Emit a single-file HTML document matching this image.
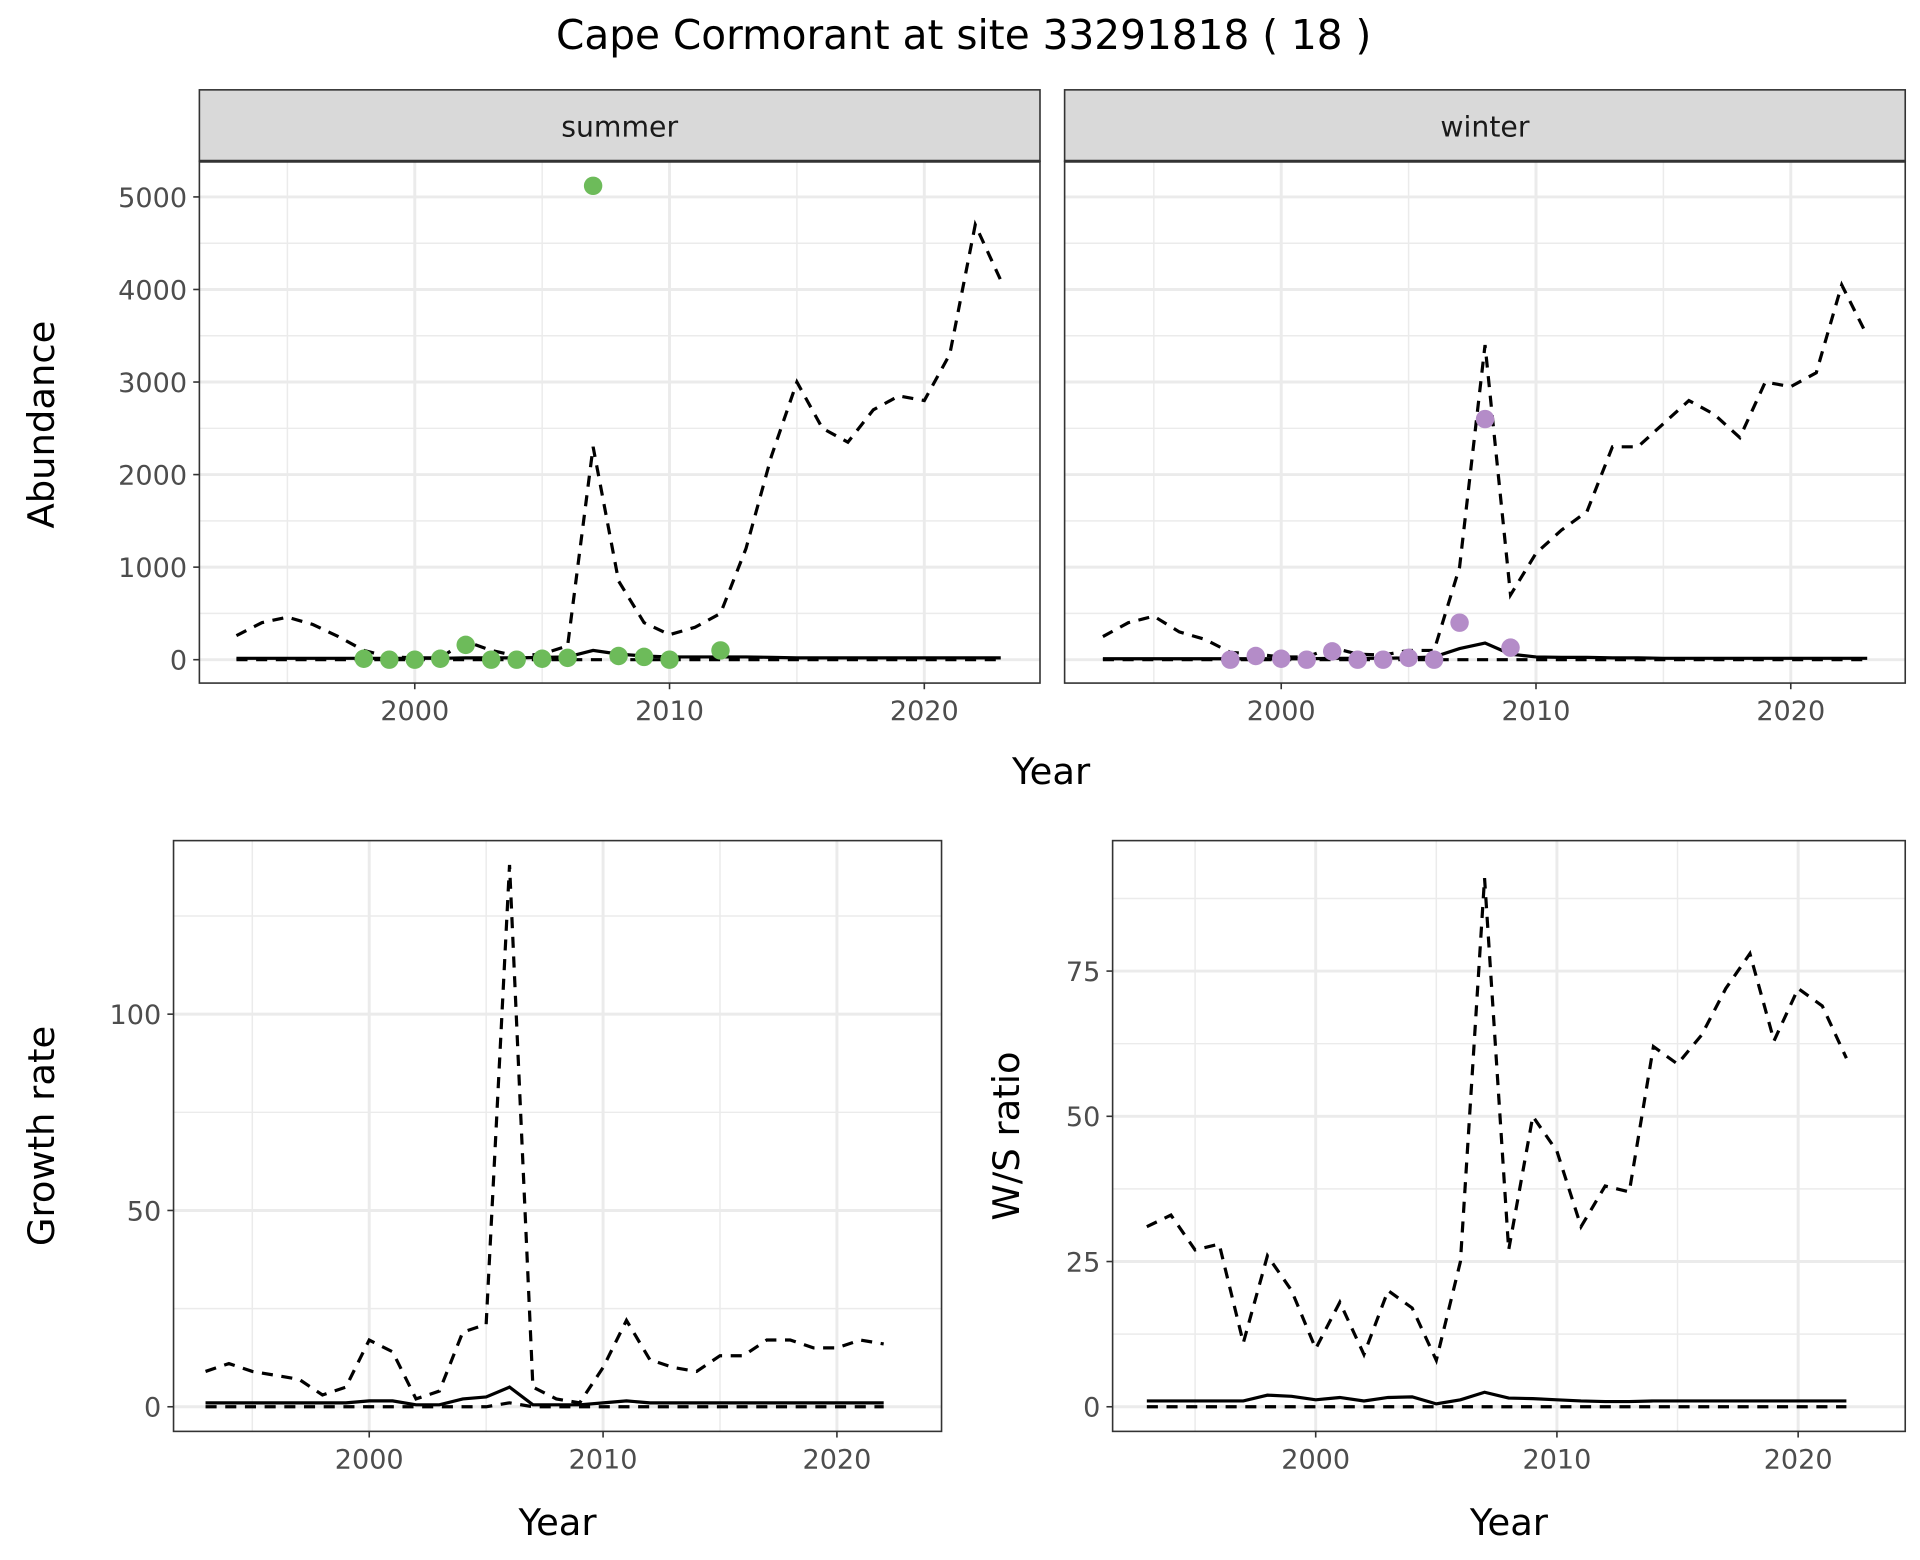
<!DOCTYPE html>
<html><head><meta charset="utf-8"><style>
html,body{margin:0;padding:0;background:#fff;}
svg{display:block;font-family:"DejaVu Sans","Liberation Sans",sans-serif;}
</style></head><body>
<svg id="chart" width="1920" height="1560" viewBox="0 0 1560 1267.5" preserveAspectRatio="none" xmlns="http://www.w3.org/2000/svg">
<text x="783" y="40" font-size="33" text-anchor="middle" fill="#000">Cape Cormorant at site 33291818 ( 18 )</text>
</svg>
<script>
const years = [1993,1994,1995,1996,1997,1998,1999,2000,2001,2002,2003,2004,2005,2006,2007,2008,2009,2010,2011,2012,2013,2014,2015,2016,2017,2018,2019,2020,2021,2022,2023];
const summerUpper = [260,400,460,380,250,100,30,20,20,200,100,40,60,150,2300,850,400,270,350,500,1200,2200,3000,2500,2350,2700,2850,2800,3300,4700,4100];
const summerMid = [15,15,15,15,15,15,15,15,15,20,20,20,25,30,100,60,40,30,30,30,30,25,20,20,20,20,20,20,20,20,20];
const summerLower = [0,0,0,0,0,0,0,0,0,0,0,0,0,0,0,0,0,0,0,0,0,0,0,0,0,0,0,0,0,0,0];
const summerPtYears = [1998,1999,2000,2001,2002,2003,2004,2005,2006,2007,2008,2009,2010,2012];
const summerPts = [10,0,0,10,160,0,0,10,20,5120,40,30,0,100];
const winterUpper = [250,400,470,300,220,80,60,30,30,130,60,50,100,100,1000,3400,700,1150,1400,1600,2300,2300,2550,2800,2650,2400,3000,2950,3100,4050,3500];
const winterMid = [10,10,10,10,10,10,10,10,10,15,15,15,20,30,120,180,60,30,25,25,20,20,15,15,15,15,15,15,15,15,15];
const winterLower = summerLower;
const winterPtYears = [1998,1999,2000,2001,2002,2003,2004,2005,2006,2007,2008,2009];
const winterPts = [0,40,10,0,90,0,0,20,0,400,2600,130];
const gYears = years.slice(0,30);
const growthUpper = [9,11,9,8,7,3,5,17,14,2,4,19,21,138,5,2,1,10,22,12,10,9,13,13,17,17,15,15,17,16];
const growthMid = [1,1,1,1,1,1,1,1.5,1.5,0.5,0.5,2,2.5,5,0.5,0.5,0.5,1,1.5,1,1,1,1,1,1,1,1,1,1,1];
const growthLower = [0,0,0,0,0,0,0,0,0,0,0,0,0,1,0,0,0,0,0,0,0,0,0,0,0,0,0,0,0,0];
const wsUpper = [31,33,27,28,11,26,20,10,18,9,20,17,8,25,91,27,50,44,31,38,37,62,59,64,72,78,63,72,69,60];
const wsMid = [1,1,1,1,1,2,1.8,1.2,1.6,1,1.6,1.7,0.5,1.2,2.5,1.5,1.4,1.2,1,0.9,0.9,1,1,1,1,1,1,1,1,1];
const wsLower = [0,0,0,0,0,0,0,0,0,0,0,0,0,0,0,0,0,0,0,0,0,0,0,0,0,0,0,0,0,0];
const abTicks = [0,1000,2000,3000,4000,5000];
const grTicks = [0,50,100];
const wsTicks = [0,25,50,75];
const xTicks = [2000,2010,2020];

const NS="http://www.w3.org/2000/svg";
const svg=document.getElementById('chart');
function mk(tag,attrs,parent){const e=document.createElementNS(NS,tag);for(const k in attrs)e.setAttribute(k,attrs[k]);(parent||svg).appendChild(e);return e;}

function panel(p){
  const g=mk('g',{});
  
  
  const xs=v=>p.x0+(v-p.xa)*(p.x1-p.x0)/(p.xb-p.xa);
  const ys=v=>p.y0+(v-p.ya)*(p.y1-p.y0)/(p.yb-p.ya);
  const L=p.left,R=p.right,T=p.top,B=p.bottom;
  for(let i=0;i<p.yt.length-1;i++){const v=(p.yt[i]+p.yt[i+1])/2;mk('line',{x1:L,x2:R,y1:ys(v),y2:ys(v),stroke:'#ebebeb','stroke-width':1.2},g);}
  if(p.yt.length>1){const st=p.yt[1]-p.yt[0];const v=p.yt[p.yt.length-1]+st/2;if(ys(v)>T)mk('line',{x1:L,x2:R,y1:ys(v),y2:ys(v),stroke:'#ebebeb','stroke-width':1.2},g);}
  [1995,2005,2015].forEach(v=>mk('line',{x1:xs(v),x2:xs(v),y1:T,y2:B,stroke:'#ebebeb','stroke-width':1.2},g));
  p.yt.forEach(v=>mk('line',{x1:L,x2:R,y1:ys(v),y2:ys(v),stroke:'#ebebeb','stroke-width':2.4},g));
  xTicks.forEach(v=>mk('line',{x1:xs(v),x2:xs(v),y1:T,y2:B,stroke:'#ebebeb','stroke-width':2.4},g));
  const dash='9,7';
  const line=(xv,yv,d,nm)=>{const pl=mk('polyline',{points:xv.map((x,i)=>xs(x)+','+ys(yv[i])).join(' '),fill:'none',stroke:'#000','stroke-width':2.6,'stroke-dasharray':d||'none'},g);
    
    };
  line(p.xv,p.lower,dash,'lower-bound-line');
  line(p.xv,p.mid,null,'estimate-line');
  line(p.xv,p.upper,dash,'upper-bound-line');
  if(p.pts){p.pts.forEach((v,i)=>{const c=mk('circle',{cx:xs(p.ptx[i]),cy:ys(v),r:7.5,fill:p.col},g);
    
    });}
  mk('rect',{x:L,y:T,width:R-L,height:B-T,fill:'none',stroke:'#333','stroke-width':1.3},g);
  if(p.showY){p.yt.forEach(v=>{mk('line',{x1:L-5,x2:L,y1:ys(v),y2:ys(v),stroke:'#333','stroke-width':1.3},g);
    const t=mk('text',{x:L-10,y:ys(v)+8,'font-size':22,'text-anchor':'end',fill:'#4d4d4d'},g);t.textContent=v;
    
    });}
  xTicks.forEach(v=>{mk('line',{x1:xs(v),x2:xs(v),y1:B,y2:B+5,stroke:'#333','stroke-width':1.3},g);
    const t=mk('text',{x:xs(v),y:B+30,'font-size':22,'text-anchor':'middle',fill:'#4d4d4d'},g);t.textContent=v;
    
    });
  if(p.strip){const r=mk('rect',{x:L,y:73,width:R-L,height:T-73,fill:'#d9d9d9',stroke:'#333','stroke-width':1.3},g);
    
    
    mk('line',{x1:L,x2:R,y1:T,y2:T,stroke:'#333','stroke-width':2.5},g);
    const t=mk('text',{x:(L+R)/2,y:111,'font-size':23,'text-anchor':'middle',fill:'#1a1a1a'},g);t.textContent=p.strip;
    
    }
}
function label(txt,x,y,rot,nm){const t=mk('text',{x:x,y:y,'font-size':30,'text-anchor':'middle',fill:'#000',transform:rot?`rotate(-90 ${x} ${y})`:''});t.textContent=txt;
  
  }

panel({name:'summer-panel',left:162,right:845,top:131,bottom:555,x0:337,x1:544,xa:2000,xb:2010,y0:536,y1:160,ya:0,yb:5000,yt:abTicks,xv:years,upper:summerUpper,mid:summerMid,lower:summerLower,pts:summerPts,ptx:summerPtYears,col:'#6dbb5a',showY:true,strip:'summer'});
panel({name:'winter-panel',left:865,right:1548,top:131,bottom:555,x0:1041,x1:1248,xa:2000,xb:2010,y0:536,y1:160,ya:0,yb:5000,yt:abTicks,xv:years,upper:winterUpper,mid:winterMid,lower:winterLower,pts:winterPts,ptx:winterPtYears,col:'#b48cc8',showY:false,strip:'winter'});
panel({name:'growth-rate-panel',left:141,right:765,top:683,bottom:1163,x0:300,x1:490,xa:2000,xb:2010,y0:1143,y1:824,ya:0,yb:100,yt:grTicks,xv:gYears,upper:growthUpper,mid:growthMid,lower:growthLower,showY:true});
panel({name:'ws-ratio-panel',left:904,right:1548,top:683,bottom:1163,x0:1069,x1:1265,xa:2000,xb:2010,y0:1143,y1:789,ya:0,yb:75,yt:wsTicks,xv:gYears,upper:wsUpper,mid:wsMid,lower:wsLower,showY:true});
label('Year',854,637,false,'x-axis-title-top');
label('Abundance',44,345,true,'y-axis-title-abundance');
label('Year',453,1247,false,'x-axis-title-growth');
label('Growth rate',44,923,true,'y-axis-title-growth');
label('Year',1226,1247,false,'x-axis-title-ws');
label('W/S ratio',828,923,true,'y-axis-title-ws');
</script>
</body></html>
